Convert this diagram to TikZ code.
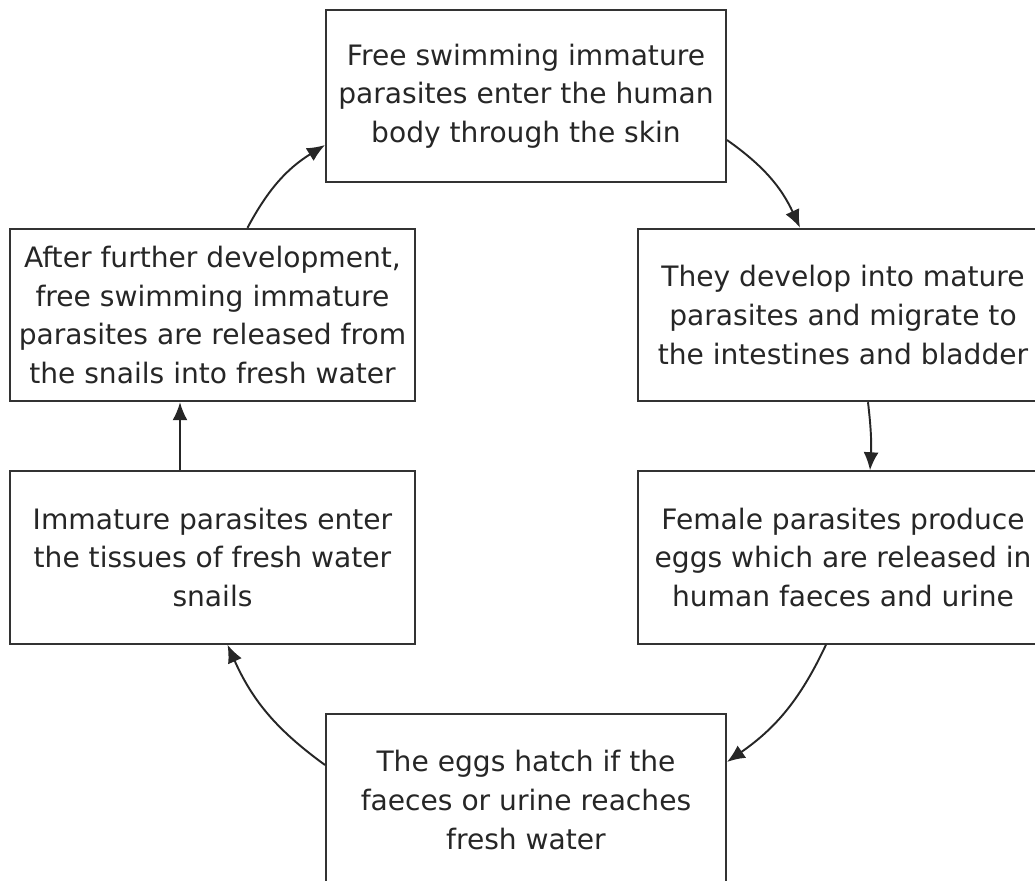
\documentclass[tikz,border=0pt]{standalone}
\usepackage{fontspec}
\setmainfont{DejaVu Sans}
\usepackage{tikz}
\usetikzlibrary{arrows.meta}

\tikzset{
    stage/.style={draw=black!80, line width=1.1pt, minimum width=8cm, minimum height=3.45cm,
        align=center, inner sep=0pt, font=\fontsize{16}{22}\selectfont, text=black!85},
    cyc/.style={-{Latex[length=0.36cm,width=0.3cm]}, line width=1.1pt, black!85}
}

\begin{document}
\begin{tikzpicture}
    \useasboundingbox (0,0) rectangle (20.7,-17.62);
    % stages of the life cycle
    \node[stage] (skin) at (10.52,-1.92) {Free swimming immature\\parasites enter the human\\body through the skin};
    \node[stage, minimum width=8.2cm] (mature) at (16.86,-6.3) {They develop into mature\\parasites and migrate to\\the intestines and bladder};
    \node[stage, minimum width=8.2cm] (eggs) at (16.86,-11.15) {Female parasites produce\\eggs which are released in\\human faeces and urine};
    \node[stage] (hatch) at (10.52,-16.0) {The eggs hatch if the\\faeces or urine reaches\\fresh water};
    \node[stage, minimum width=8.1cm] (snails) at (4.25,-11.15) {Immature parasites enter\\the tissues of fresh water\\snails};
    \node[stage, minimum width=8.1cm] (release) at (4.25,-6.3) {After further development,\\free swimming immature\\parasites are released from\\the snails into fresh water};

    % arrows round the cycle
    \draw[cyc] ([yshift=-0.88cm]skin.east) to[bend left=15] ([xshift=-0.86cm]mature.north);
    \draw[cyc] ([xshift=0.5cm]mature.south) to[bend left=5] ([xshift=0.54cm]eggs.north);
    \draw[cyc] ([xshift=-0.34cm]eggs.south) to[bend left=15] ([yshift=0.76cm]hatch.east);
    \draw[cyc] ([yshift=0.7cm]hatch.west) to[bend left=15] ([xshift=0.3cm]snails.south);
    \draw[cyc] ([xshift=-0.65cm]snails.north) -- ([xshift=-0.65cm]release.south);
    \draw[cyc] ([xshift=0.7cm]release.north) to[bend left=15] ([yshift=-0.98cm]skin.west);
\end{tikzpicture}
\end{document}
